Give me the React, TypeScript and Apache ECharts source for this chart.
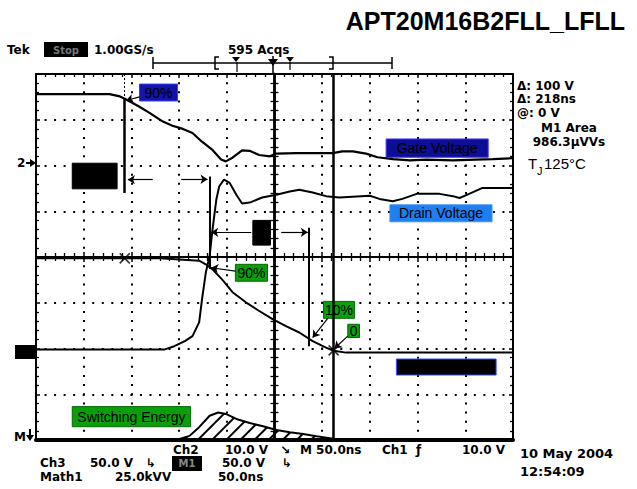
import React, { useEffect, useRef } from "react";
import * as echarts from "echarts";

// ---- data (x: time in ns, 50 ns/div; y: screen divisions, -4..4) ----
const timeRangeNs = [-250, 250];
const divRange = [-4, 4];

const gateVoltage: [number, number][] = [
  [-250, 3.56], [-173, 3.56], [-162, 3.51], [-157, 3.46], [-142, 3.29], [-131, 3.15],
  [-117, 2.96], [-107, 2.87], [-96, 2.8], [-86, 2.71], [-76, 2.52], [-65, 2.34],
  [-56, 2.13], [-51, 2.09], [-44, 2.17], [-34, 2.33], [-26, 2.32], [-16, 2.23],
  [-5, 2.2], [2, 2.26], [23, 2.27], [47, 2.27], [61, 2.27], [71, 2.31], [82, 2.31],
  [96, 2.26], [108, 2.18], [124, 2.14], [142, 2.11], [159, 2.13], [187, 2.11],
  [211, 2.13], [229, 2.14], [250, 2.16],
];

const drainVoltage: [number, number][] = [
  [-250, -2.02], [-115, -2.02], [-105, -1.95], [-94, -1.84], [-86, -1.73], [-79, -1.43],
  [-76, -0.93], [-72, -0.34], [-68, 0.02], [-65, 0.6], [-61, 1.25], [-58, 1.54],
  [-53, 1.69], [-47, 1.62], [-40, 1.36], [-34, 1.17], [-26, 1.19], [-13, 1.3],
  [2, 1.36], [16, 1.43], [26, 1.47], [40, 1.41], [54, 1.33], [68, 1.3], [100, 1.34],
  [110, 1.27], [124, 1.22], [134, 1.27], [149, 1.38], [173, 1.38], [187, 1.33],
  [194, 1.29], [204, 1.38], [218, 1.51], [250, 1.51],
];

const drainCurrent: [number, number][] = [
  [-250, -0.03], [-120, -0.03], [-79, -0.08], [-72, -0.16], [-65, -0.27], [-55, -0.49],
  [-44, -0.77], [-30, -0.99], [-16, -1.18], [-2, -1.36], [12, -1.51], [26, -1.65],
  [40, -1.84], [54, -1.98], [62, -2.05], [75, -2.09], [250, -2.09],
];

const switchingEnergy: [number, number][] = [
  [-250, -4], [-103, -4], [-89, -3.91], [-79, -3.72], [-68, -3.47], [-59, -3.4],
  [-51, -3.43], [-40, -3.54], [-26, -3.63], [-12, -3.7], [2, -3.78], [16, -3.83],
  [30, -3.87], [44, -3.92], [58, -3.96], [71, -4], [250, -4],
];

const cursorTimes = [-157, 62]; // Δ 218 ns
const cursorMarks: [number, number][] = [[-157, -0.03], [62, -2.04]];

const title = "APT20M16B2FLL_LFLL";
const headerTexts = ["Tek", "Stop", "1.00GS/s", "595 Acqs"];
const readouts = ["Δ: 100 V", "Δ: 218ns", "@: 0 V", "M1 Area", "986.3μVVs"];
const tempText = ["T", "J", "125°C"];
const bottomRow1 = ["Ch2", "10.0 V", "↘", "M 50.0ns", "Ch1", "ƒ", "10.0 V"];
const bottomRow2 = ["Ch3", "50.0 V", "↳", "M1", "50.0 V", "↳"];
const bottomRow3 = ["Math1", "25.0kVV", "50.0ns"];
const dateTexts = ["10 May 2004", "12:54:09"];
const boxLabels = ["90%", "Gate Voltage", "Drain Voltage", "90%", "10%", "0", "Switching Energy"];

const SCOPE = 'bold 12px "DejaVu Sans", sans-serif';
const LBL = '"Liberation Sans", Arial, sans-serif';

function txt(x: number, y: number, text: string, font = SCOPE, extra: any = {}) {
  return {
    type: "text",
    x,
    y,
    silent: true,
    style: {
      text,
      font,
      fill: "#000",
      lineHeight: 11,
      textAlign: "left",
      align: "left",
      textVerticalAlign: "middle",
      verticalAlign: "middle",
      ...extra,
    },
  };
}
function ln(x1: number, y1: number, x2: number, y2: number, w = 1.5) {
  return { type: "line", silent: true, shape: { x1, y1, x2, y2 }, style: { stroke: "#000", lineWidth: w } };
}
function poly(points: number[][]) {
  return { type: "polygon", silent: true, shape: { points }, style: { fill: "#000" } };
}

export default function App() {
  const ref = useRef<HTMLDivElement>(null);
  useEffect(() => {
    if (!ref.current) return;
    const chart = echarts.init(ref.current, null, { renderer: "svg" });

    const baseX: any = {
      type: "value",
      min: timeRangeNs[0],
      max: timeRangeNs[1],
      interval: 50,
      axisLabel: { show: false },
      splitLine: { show: false },
      axisTick: { show: false },
      minorTick: { show: false },
      axisLine: { onZero: false, lineStyle: { color: "#000", width: 2 } },
    };
    const baseY: any = {
      type: "value",
      min: divRange[0],
      max: divRange[1],
      interval: 1,
      axisLabel: { show: false },
      splitLine: { show: false },
      axisTick: { show: false },
      minorTick: { show: false },
      axisLine: { onZero: false, lineStyle: { color: "#000", width: 2 } },
    };
    const tick = (len: number) => ({ show: true, inside: true, length: len, lineStyle: { color: "#000", width: 1.5 } });
    const minor = (len: number) => ({ show: true, splitNumber: 5, length: len, lineStyle: { color: "#000", width: 1.3 } });

    const box = (x1: number, y1: number, x2: number, y2: number, color: string, border: string, label?: string) => [
      {
        coord: [x1, y1],
        itemStyle: { color, borderColor: border, borderWidth: 1, opacity: 1 },
        label: label
          ? { show: true, position: "inside", formatter: label, color: "#000", fontSize: 14, fontFamily: LBL }
          : { show: false },
      },
      { coord: [x2, y2] },
    ];
    const seg = (x1: number, y1: number, x2: number, y2: number, arrow = false, style: any = {}) => [
      { coord: [x1, y1], symbol: "none", lineStyle: style },
      { coord: [x2, y2], symbol: arrow ? "arrow" : "none", symbolSize: 7 },
    ];

    const traceStyle = { color: "#000", width: 2 };

    const option: any = {
      animation: false,
      backgroundColor: "#fff",
      grid: { left: 36, top: 74, width: 477, height: 366 },
      xAxis: [
        {
          ...baseX,
          position: "bottom",
          axisLine: { onZero: false, lineStyle: { color: "#000", width: 4 } },
          splitLine: { show: true, lineStyle: { color: "#000", width: 2, type: [2, 7.15], dashOffset: 1 } },
        },
        { ...baseX, position: "top", axisTick: tick(4), minorTick: minor(3) },
        {
          ...baseX,
          position: "bottom",
          axisLine: { onZero: true, onZeroAxisIndex: 0, lineStyle: { color: "#000", width: 2 } },
          axisTick: tick(5),
          minorTick: minor(4),
        },
        {
          ...baseX,
          position: "top",
          axisLine: { onZero: true, onZeroAxisIndex: 1, lineStyle: { color: "#000", width: 2 } },
          axisTick: tick(5),
          minorTick: minor(4),
        },
      ],
      yAxis: [
        {
          ...baseY,
          position: "left",
          axisTick: tick(4),
          minorTick: minor(3),
          splitLine: { show: true, lineStyle: { color: "#000", width: 2, type: [2, 7.54], dashOffset: 1 } },
        },
        { ...baseY, position: "right", axisTick: tick(4), minorTick: minor(3) },
        {
          ...baseY,
          position: "left",
          axisLine: { onZero: true, onZeroAxisIndex: 0, lineStyle: { color: "#000", width: 2.5 } },
          axisTick: tick(5),
          minorTick: minor(4),
        },
        {
          ...baseY,
          position: "right",
          axisLine: { onZero: true, onZeroAxisIndex: 1, lineStyle: { color: "#000", width: 2.5 } },
          axisTick: tick(5),
          minorTick: minor(4),
        },
      ],
      series: [
        {
          name: "Switching Energy",
          type: "line",
          data: switchingEnergy,
          showSymbol: false,
          lineStyle: traceStyle,
          itemStyle: {
            color: "#000",
            decal: {
              symbol: "rect",
              symbolSize: 1,
              symbolKeepAspect: false,
              color: "#000",
              backgroundColor: "rgba(0,0,0,0)",
              dashArrayX: [1, 0],
              dashArrayY: [1.2, 7.5],
              rotation: -Math.PI / 4,
            },
          },
          areaStyle: { color: "rgba(255,255,255,0)", opacity: 1, origin: "start" },
          z: 1,
        },
        { name: "Gate Voltage", type: "line", data: gateVoltage, showSymbol: false, lineStyle: { ...traceStyle, width: 2.2 }, itemStyle: { color: "#000" }, z: 5 },
        { name: "Drain Voltage", type: "line", data: drainVoltage, showSymbol: false, lineStyle: traceStyle, itemStyle: { color: "#000" }, z: 5 },
        {
          name: "Drain Current",
          type: "line",
          data: drainCurrent,
          showSymbol: false,
          lineStyle: traceStyle,
          itemStyle: { color: "#000" },
          z: 5,
          markLine: {
            silent: true,
            symbol: ["none", "none"],
            label: { show: false },
            lineStyle: { color: "#000", width: 2, type: "solid" },
            data: [
              seg(cursorTimes[0], 4, cursorTimes[0], 3.46, false, { type: [2, 2], width: 1 }),
              seg(cursorTimes[0], 3.46, cursorTimes[0], 1.4, false, { width: 2.5 }),
              seg(cursorTimes[1], -4, cursorTimes[1], 4, false, { width: 2.5 }),
              seg(-68, 1.76, -68, -0.26),
              seg(36, 0.64, 36, -1.95),
              seg(-127.6, 1.69, -153.7, 1.69, true, { width: 1.2 }),
              seg(-97.8, 1.7, -70.2, 1.7, true, { width: 1.2 }),
              seg(-24.4, 0.54, -66.3, 0.54, true, { width: 1.2 }),
              seg(7, 0.54, 34.9, 0.54, true, { width: 1.2 }),
              seg(-141.5, 3.5, -155.5, 3.42, true, { width: 1.2 }),
              seg(-40.9, -0.31, -66.3, -0.235, true, { width: 1.2 }),
              seg(55.8, -1.34, 40, -1.76, true, { width: 1.2 }),
              seg(76.8, -1.73, 62.9, -2.0, true, { width: 1.2 }),
            ],
          },
          markArea: {
            silent: true,
            data: [
              box(-141.5, 3.78, -101.6, 3.41, "#1414a8", "#3a3aff", boxLabels[0]),
              box(117, 2.58, 224, 2.18, "#0d0d96", "#3a3aff", boxLabels[1]),
              box(121, 1.14, 228, 0.77, "#1f7ef0", "#3f8fff", boxLabels[2]),
              box(-41, -0.16, -7.3, -0.53, "#0a9e0a", "#066806", boxLabels[3]),
              box(51.4, -0.97, 83.8, -1.34, "#0a9e0a", "#066806", boxLabels[4]),
              box(76.8, -1.47, 89.1, -1.76, "#0a9e0a", "#066806", boxLabels[5]),
              box(-212, -3.27, -88, -3.71, "#0a9e0a", "#066806", boxLabels[6]),
              box(-212, 2.05, -165, 1.49, "#000", "#000"),
              box(-22.7, 0.8, -4.2, 0.26, "#000", "#000"),
              box(127.8, -2.23, 232.3, -2.58, "#000", "#2a4dff"),
            ],
          },
        },
        {
          name: "Cursor marks",
          type: "scatter",
          data: cursorMarks,
          symbol: "path://M0 0L10 10M10 0L0 10",
          symbolSize: 10,
          itemStyle: { color: "rgba(0,0,0,0)", borderColor: "#000", borderWidth: 1.6 },
          z: 6,
        },
      ],
      graphic: [
        txt(625, 21, title, `bold 25px ${LBL}`, { textAlign: "right", align: "right", lineHeight: 26 }),
        txt(7, 50, headerTexts[0]),
        { type: "rect", silent: true, shape: { x: 44, y: 42, width: 44, height: 15 }, style: { fill: "#000" } },
        txt(66, 50, headerTexts[1], 'bold 10px "DejaVu Sans", sans-serif', { fill: "#777", textAlign: "center", align: "center" }),
        txt(94, 50, headerTexts[2]),
        txt(228, 50, headerTexts[3]),
        // acquisition ruler
        ln(153, 63, 392, 63),
        ln(153, 57, 153, 69),
        ln(392, 57, 392, 69),
        { type: "polyline", silent: true, shape: { points: [[219, 57], [215, 57], [215, 69], [219, 69]] }, style: { stroke: "#000", lineWidth: 1.5, fill: null } },
        { type: "polyline", silent: true, shape: { points: [[329, 57], [333, 57], [333, 69], [329, 69]] }, style: { stroke: "#000", lineWidth: 1.5, fill: null } },
        poly([[232, 57], [240, 57], [236, 62]]),
        ln(237, 62, 237, 72, 1.2),
        poly([[268, 59], [278, 59], [273, 66]]),
        ln(273, 56, 273, 73, 1.5),
        poly([[286, 57], [294, 57], [290, 62]]),
        ln(290, 62, 290, 70, 1.2),
        // left markers
        txt(17, 163, "2"),
        ln(26, 163, 31, 163, 2),
        poly([[30, 159], [36, 163], [30, 167]]),
        { type: "rect", silent: true, shape: { x: 15, y: 345, width: 21, height: 14 }, style: { fill: "#000" } },
        txt(14, 437, "M"),
        ln(30, 429, 30, 436, 2),
        poly([[26, 435], [34, 435], [30, 441]]),
        // right readouts
        txt(517, 86, readouts[0]),
        txt(517, 99, readouts[1]),
        txt(517, 113, readouts[2]),
        txt(569, 128, readouts[3], SCOPE, { textAlign: "center", align: "center" }),
        txt(569, 142, readouts[4], SCOPE, { textAlign: "center", align: "center" }),
        txt(528, 163, tempText[0], `15px ${LBL}`, { lineHeight: 15 }),
        txt(537, 171, tempText[1], `11px ${LBL}`),
        txt(544, 163, tempText[2], `15px ${LBL}`, { lineHeight: 15 }),
        // bottom status lines
        txt(173, 450, bottomRow1[0]),
        txt(225, 450, bottomRow1[1]),
        txt(280, 450, bottomRow1[2]),
        txt(300, 450, bottomRow1[3]),
        txt(382, 450, bottomRow1[4]),
        txt(416, 450, bottomRow1[5]),
        txt(462, 450, bottomRow1[6]),
        txt(40, 463, bottomRow2[0]),
        txt(90, 463, bottomRow2[1]),
        txt(146, 463, bottomRow2[2]),
        { type: "rect", silent: true, shape: { x: 172, y: 456, width: 30, height: 15 }, style: { fill: "#000" } },
        txt(187, 463, bottomRow2[3], 'bold 10px "DejaVu Sans", sans-serif', { fill: "#888", textAlign: "center", align: "center" }),
        txt(222, 463, bottomRow2[4]),
        txt(282, 463, bottomRow2[5]),
        txt(40, 477, bottomRow3[0]),
        txt(115, 477, bottomRow3[1]),
        txt(218, 477, bottomRow3[2]),
        txt(520, 453, dateTexts[0], 'bold 13px "DejaVu Sans", sans-serif', { lineHeight: 13 }),
        txt(520, 471, dateTexts[1], 'bold 13px "DejaVu Sans", sans-serif', { lineHeight: 13 }),
      ],
    };
    chart.setOption(option);
    return () => chart.dispose();
  }, []);
  return <div ref={ref} style={{ position: "absolute", left: 0, top: 0, width: 637, height: 489, background: "#fff" }} />;
}
